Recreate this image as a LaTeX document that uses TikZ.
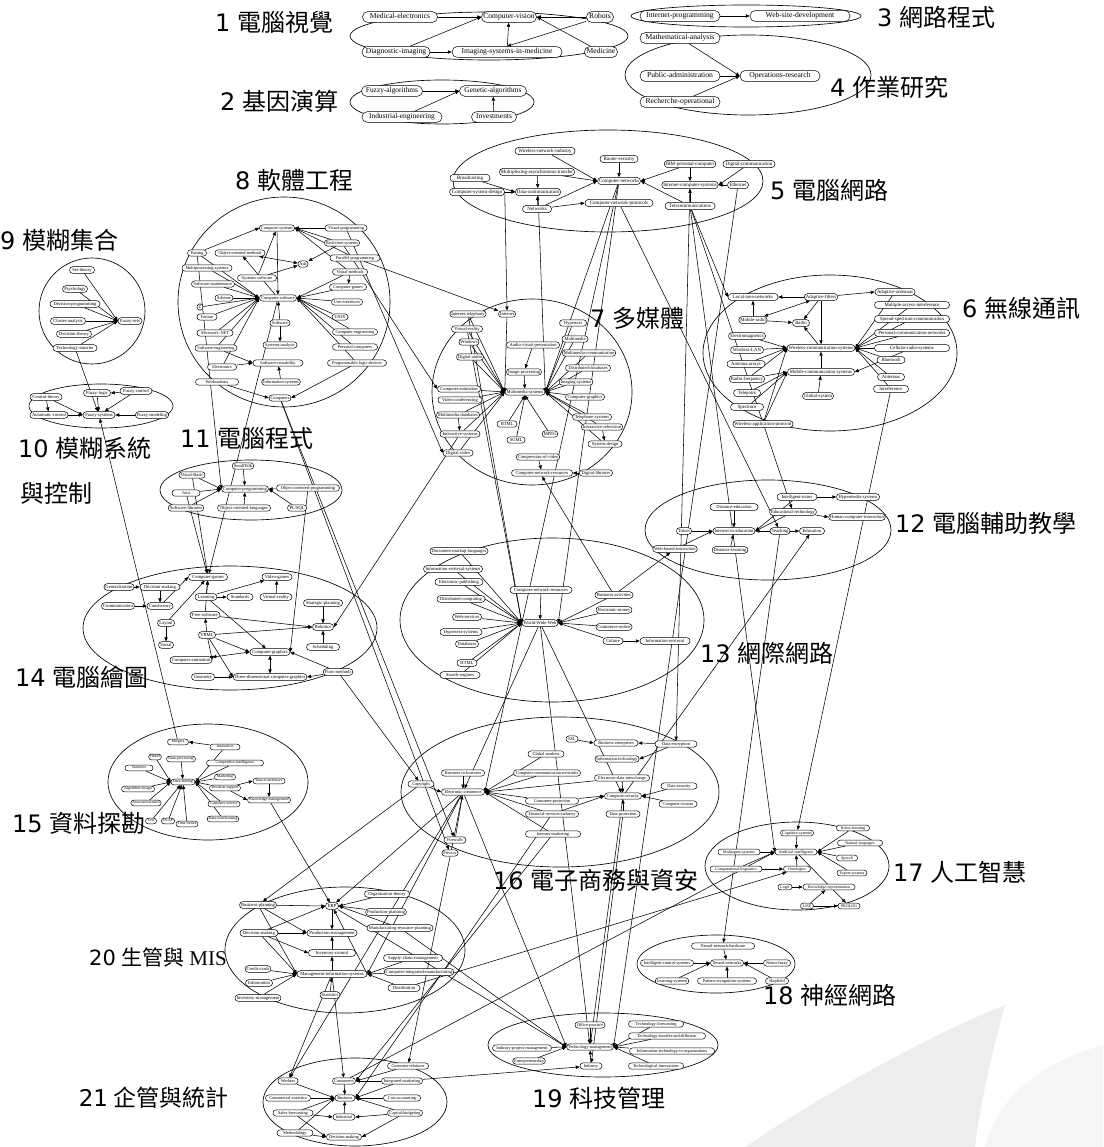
\documentclass[tikz,border=0pt]{standalone}
\usepackage{fontspec}
\setmainfont{Liberation Serif}
\newfontfamily\cjkf{Noto Sans CJK TC}
\newfontfamily\dvs{DejaVu Sans}
\usetikzlibrary{arrows.meta}
\pgfdeclarelayer{bg}
\pgfsetlayers{bg,main}
\newcommand\setc[1]{\def\nfs{\fontsize{#1}{#1}\selectfont}%
 \pgfmathsetmacro\nth{0.72*#1}\pgfmathsetmacro\ntd{0.22*#1}%
 \pgfmathsetmacro\nys{0.25*#1}\pgfmathsetmacro\nrc{0.7*#1}}
\setc{4.5}
\tikzset{
 nd/.style={draw,fill=white,rounded corners=\nrc pt,font=\nfs,inner xsep=1.5pt,inner ysep=\nys pt,text height=\nth pt,text depth=\ntd pt,line width=0.5pt},
 ar/.style={-{Triangle[length=4pt,width=3.3pt]},line width=0.55pt},
 ar2/.style={{Triangle[length=4pt,width=3.3pt]}-{Triangle[length=4pt,width=3.3pt]},line width=0.55pt},
 ell/.style={line width=0.65pt},
 lbl/.style={anchor=west,inner sep=0pt,font=\fontsize{24}{26}\selectfont},
}
\newcommand\nd[5]{\node[nd,minimum width=#4pt] (#1) at (#2,#3) {#5};}
\newcommand\ed[2]{\draw[ar] (#1) -- (#2);}
\newcommand\clab[4]{\node[lbl] at (#1,#2) {{\dvs #3}\hspace{0.28em}{\cjkf #4}};}
\begin{document}
\begin{tikzpicture}[x=1pt,y=-1pt]
\useasboundingbox (0,0) rectangle (1103,1147);
% ---------- cluster 1
\setc{7.6}
\nd{mede}{400}{17}{75}{Medical-electronics}
\nd{cv}{509}{17}{55}{Computer-vision}
\nd{rob}{600}{17}{27}{Robots}
\nd{diag}{396}{52}{68}{Diagnostic-imaging}
\nd{ism}{507}{52}{110}{Imaging-systems-in-medicine}
\nd{med}{601}{52}{33}{Medicine}
% cluster 2
\setc{7.4}
\nd{fa}{392}{91}{61}{Fuzzy-algorithms}
\nd{ga}{493}{91}{67}{Genetic-algorithms}
\nd{ie}{402}{117}{80}{Industrial-engineering}
\nd{inv}{494}{117}{45}{Investments}
% cluster 3, 4
\setc{7.6}
\nd{ip}{680}{16}{80}{Internet-programming}
\nd{wsd}{800}{16}{100}{Web-site-development}
\nd{ma}{680}{38}{80}{Mathematical-analysis}
\nd{pa}{680}{76}{80}{Public-administration}
\nd{ro}{680}{102}{80}{Recherche-operational}
\nd{or}{780}{76}{80}{Operations-research}
% cluster 5
\setc{5}
\nd{wni}{545}{151}{60}{Wireless-network-industry}
\nd{rsec}{619}{159}{38}{Router-security}
\nd{cn}{619}{181}{42}{Computer-networks}
\nd{ibm}{690}{164}{50}{IBM-personal-computer}
\nd{dcom}{749}{164}{52}{Digital-communication}
\nd{ics}{690}{185}{55}{Internet-computer-systems}
\nd{eth}{738}{185}{21}{Ethernet}
\nd{tsys}{690}{206}{50}{Telecommunications}
\nd{cnp}{619}{203}{68}{Computer-network-protocols}
\nd{mat}{537}{172}{75}{Multiplexing-asynchronous-transfer}
\nd{dc}{538}{192}{43}{Data-communication}
\nd{nw}{537}{209}{29}{Networks}
\nd{bc}{470}{178}{40}{Broadcasting}
\nd{csp}{477}{192}{55}{Computer-system-design}
% cluster 6
\setc{4.8}
\nd{lan}{753}{297}{50}{Local-area-networks}
\nd{adf}{821}{297}{32}{Adaptive-filters}
\nd{ada}{895}{292}{40}{Adaptive-antennas}
\nd{r6a}{912}{305}{75}{Multiple-access-interference}
\nd{r6b}{912}{319}{75}{Spread-spectrum-communication}
\nd{r6c}{912}{333}{75}{Personal-communication-networks}
\nd{r6d}{912}{348}{75}{Cellular-radio-systems}
\nd{blt}{891}{360}{28}{Bluetooth}
\nd{ant}{891}{377}{27}{Antennas}
\nd{intf}{891}{389}{35}{Interference}
\nd{mr}{753}{320}{27}{Mobile-radio}
\nd{radio}{801}{323}{17}{Radio}
\nd{wcs}{821}{348}{67}{Wireless-communication-systems}
\nd{l6a}{747}{336}{37}{Electromagnetics}
\nd{l6b}{747}{350}{33}{Wireless-LAN}
\nd{l6c}{746}{364}{38}{Antenna-arrays}
\nd{l6d}{747}{379}{33}{Radio-frequency}
\nd{l6e}{747}{393}{27}{Telepoint}
\nd{l6f}{747}{407}{33}{Spectrum}
\nd{wap}{763}{424}{60}{Wireless-application-protocol}
\nd{mcs}{821}{372}{67}{Mobile-communication-systems}
\nd{gsm}{818}{396}{30}{Global-system}
% cluster 7
\setc{4.5}
\nd{itech}{468}{314}{33}{Internet-telephony}
\nd{inet}{507}{314}{17}{Internet}
\nd{hyp}{573}{323}{27}{Hypertext}
\nd{vr7}{467}{329}{31}{Virtual-reality}
\nd{win}{469}{342}{18}{Windows}
\nd{daud}{470}{357}{26}{Digital-audio}
\nd{avp}{533}{345}{53}{Audio-visual-presentation}
\nd{mm}{575}{339}{26}{Multimedia}
\nd{mmc}{589}{353}{52}{Multimedia-communication}
\nd{ddb}{588}{368}{45}{Distributed-databases}
\nd{imp}{524}{372}{32}{Image-processing}
\nd{mms}{525}{392}{40}{Multimedia-systems}
\nd{imgs}{576}{382}{28}{Imaging-systems}
\nd{cgr}{585}{397}{39}{Computer-graphics}
\nd{cani}{459}{389}{43}{Computer-animation}
\nd{vconf}{460}{400}{44}{Video-conferencing}
\nd{mmd}{458}{415}{43}{Multimedia-databases}
\nd{isys}{460}{434}{40}{Interactive-systems}
\nd{dv}{458}{453}{30}{Digital-video}
\nd{html}{507}{424}{20}{HTML}
\nd{sgml}{516}{440}{18}{SGML}
\nd{mpeg}{550}{434}{14}{MPEG}
\nd{tel}{592}{417}{39}{Telephone-systems}
\nd{itv}{602}{427}{41}{Interactive-television}
\nd{sdes}{605}{444}{34}{System-design}
\nd{cvid}{538}{457}{40}{Compression-of-video}
\nd{cnr}{542}{473}{61}{Computer-network-resources}
\nd{dlib}{596}{473}{33}{Digital-libraries}
% cluster 8
\setc{4.3}
\nd{csys}{277}{228}{35}{Computer-systems}
\nd{vp}{346}{228}{42}{Visual-programming}
\nd{rts}{342}{243}{29}{Real-time-systems}
\nd{pp}{355}{258}{50}{Parallel-programming}
\nd{oom}{240}{253}{50}{Object-oriented-methods}
\nd{ada8}{303}{264}{10}{Ada}
\nd{ssw}{257}{278}{39}{Systems-software}
\nd{vm}{350}{272}{35}{Visual-methods}
\nd{cgm}{348}{287}{37}{Computer-games}
\nd{cs}{278}{298}{37}{Computer-software}
\nd{ui}{347}{302}{31}{User-interfaces}
\nd{unix}{340}{317}{16}{UNIX}
\nd{ceng}{355}{332}{45}{Computer-engineering}
\nd{pci}{355}{347}{45}{Personal-computers}
\nd{pld}{357}{363}{59}{Programmable-logic-devices}
\nd{sw}{280}{323}{20}{Software}
\nd{sa}{280}{345}{34}{Systems-analysis}
\nd{srs}{278}{363}{50}{Software-reusability}
\nd{infs}{281}{382}{38}{Information-systems}
\nd{comp}{280}{398}{20}{Computers}
\nd{pars}{197}{253}{19}{Parsing}
\nd{mpp}{207}{268}{50}{Multiprocessing-systems}
\nd{swm}{213}{284}{43}{Software-maintenance}
\nd{sch}{224}{298}{18}{Scheme}
\nd{zz}{200}{307}{6}{Z}
\nd{ftn}{207}{317}{20}{Fortran}
\nd{msn}{215}{333}{36}{Microsoft-.NET}
\nd{swe}{216}{348}{42}{Software-engineering}
\nd{elec}{222}{367}{29}{Electronics}
\nd{wks}{217}{382}{43}{Workstations}
% cluster 9
\setc{4.6}
\nd{st}{82}{270}{25}{Set-theory}
\nd{psy}{75}{289}{25}{Psychology}
\nd{dp}{75}{304}{50}{Decision-programming}
\nd{ca}{68}{321}{35}{Cluster-analysis}
\nd{dt}{74}{334}{35}{Decision-theory}
\nd{tt}{75}{348}{44}{Technology-transfer}
\nd{fs}{130}{321}{24}{Fuzzy-sets}
% cluster 10
\nd{ct}{46}{397}{32}{Control-theory}
\nd{ac}{49}{415}{38}{Automatic-control}
\nd{fl}{97}{393}{27}{Fuzzy-logic}
\nd{fc}{136}{391}{32}{Fuzzy-control}
\nd{fsys}{99}{415}{32}{Fuzzy-systems}
\nd{fm}{152}{415}{31}{Fuzzy-modeling}
% cluster 11
\setc{4.5}
\nd{smt}{243}{466}{19}{SmallTalk}
\nd{vb}{192}{475}{25}{Visual-Basic}
\nd{cp}{245}{489}{45}{Computer-programming}
\nd{oop}{308}{488}{63}{Object-oriented-programming}
\nd{java}{186}{493}{28}{Java}
\nd{swl}{186}{508}{35}{Software-libraries}
\nd{ool}{244}{508}{53}{Object-oriented-languages}
\nd{plsq}{297}{508}{19}{PL/SQL}
% cluster 12
\setc{4.6}
\nd{itut}{797}{497}{40}{Intelligent-tutors}
\nd{hyp12}{858}{497}{43}{Hypermedia-systems}
\nd{ded}{734}{507}{48}{Distance-education}
\nd{edt}{793}{512}{45}{Educational-technology}
\nd{hci}{857}{517}{55}{Human-computer-interaction}
\nd{tut}{684}{531}{15}{Tutors}
\nd{cai}{734}{531}{42}{Internet-in-education}
\nd{tch}{780}{531}{20}{Teaching}
\nd{edu}{812}{531}{25}{Education}
\nd{dl}{730}{550}{30}{Distance-learning}
\nd{wbi}{675}{549}{44}{Web-based-instruction}
% cluster 13
\nd{dml}{459}{551}{58}{Document-markup-languages}
\nd{irs}{453}{569}{59}{Information-retrieval-systems}
\nd{epub}{459}{582}{48}{Electronic-publishing}
\nd{dcmp}{461}{599}{48}{Distributed-computing}
\nd{wsrv}{467}{617}{29}{Web-services}
\nd{hts}{461}{632}{42}{Hypertext-systems}
\nd{dbs}{467}{644}{23}{Databases}
\nd{html2}{467}{663}{20}{HTML}
\nd{srch}{460}{675}{40}{Search-engines}
\nd{cnr2}{541}{590}{62}{Computer-network-resources}
\nd{www}{540}{623}{36}{World-Wide-Web}
\nd{bact}{614}{595}{38}{Business-activities}
\nd{emon}{614}{610}{33}{Electronic-money}
\nd{cmol}{614}{627}{33}{Commerce-online}
\nd{cult}{613}{641}{20}{Culture}
\nd{ir2}{665}{641}{50}{Information-retrieval}
% cluster 14
\nd{gen}{119}{587}{28}{Generalization}
\nd{dm14}{160}{587}{40}{Decision-making}
\nd{comm}{118}{606}{33}{Communication}
\nd{cons}{160}{606}{26}{Consistency}
\nd{lay}{166}{623}{17}{Layout}
\nd{soc}{166}{645}{15}{Social}
\nd{cgam}{208}{577}{39}{Computer-games}
\nd{vg}{277}{577}{30}{Video-games}
\nd{lrn}{206}{597}{22}{Learning}
\nd{std}{240}{597}{26}{Standards}
\nd{vr2}{276}{597}{32}{Virtual-reality}
\nd{sp}{323}{603}{39}{Strategic-planning}
\nd{fsw}{205}{615}{30}{Free-software}
\nd{robo}{323}{627}{21}{Robotics}
\nd{vrml}{207}{635}{17}{VRML}
\nd{sched}{323}{647}{33}{Scheduling}
\nd{cgr2}{270}{652}{40}{Computer-graphics}
\nd{cani2}{191}{660}{42}{Computer-animation}
\nd{geo}{203}{677}{23}{Geometry}
\nd{tdc}{270}{677}{70}{Three-dimensional-computer-graphics}
\nd{flow}{338}{672}{27}{Flow-methods}
% cluster 15
\setc{3.9}
\nd{mgn}{178}{742}{21}{Mergers}
\nd{innov}{225}{747}{30}{Innovation}
\nd{hmm}{155}{757}{11}{HMM}
\nd{dproc}{181}{759}{29}{Data-processing}
\nd{cint}{235}{763}{57}{Competitive-intelligence}
\nd{stat}{139}{768}{28}{Statistics}
\nd{dmin}{183}{782}{24}{Data-mining}
\nd{mkt}{225}{777}{21}{Marketing}
\nd{dsup}{225}{788}{31}{Decision-support}
\nd{dwh}{269}{781}{32}{Data-warehouses}
\nd{algd}{138}{789}{33}{Algorithm-design}
\nd{km}{269}{800}{43}{Knowledge-management}
\nd{asr}{146}{803}{29}{Association-rules}
\nd{csrv}{224}{804}{32}{Customer-service}
\nd{dwg}{223}{819}{31}{Data-warehousing}
\nd{txt}{151}{821}{11}{Text}
\nd{olap}{168}{821}{11}{OLAP}
\nd{tser}{187}{824}{21}{Time-Series}
% cluster 16
\setc{4.3}
\nd{cpy}{421}{784}{26}{Copyright}
\nd{b2b}{463}{773}{43}{Business-to-business}
\nd{ec}{463}{792}{43}{Electronic-commerce}
\nd{gm}{546}{754}{36}{Global-markets}
\nd{ccn}{547}{773}{67}{Computer-communication-networks}
\nd{cpr}{552}{801}{53}{Consumer-protection}
\nd{fsi}{552}{814}{53}{Financial-services-industry}
\nd{imk}{553}{834}{55}{Internet-marketing}
\nd{ssl}{572}{739}{12}{SSL}
\nd{be}{616}{743}{44}{Business-enterprises}
\nd{it16}{617}{759}{38}{Information-technology}
\nd{edi}{622}{778}{55}{Electronic-data-interchange}
\nd{csec}{623}{796}{37}{Computer-security}
\nd{dprot}{623}{814}{34}{Data-protection}
\nd{denc}{676}{744}{42}{Data-encryption}
\nd{dsec}{679}{786}{36}{Data-security}
\nd{cvir}{678}{804}{38}{Computer-viruses}
\nd{fw}{455}{840}{22}{Firewalls}
\nd{priv}{450}{853}{16}{Privacy}
% cluster 17
\setc{4}
\nd{cogs}{797}{833}{33}{Cognitive-systems}
\nd{ai}{796}{852}{42}{Artificial-intelligence}
\nd{mas}{739}{852}{42}{Multiagent-systems}
\nd{cling}{736}{869}{52}{Computational-linguistics}
\nd{onto}{797}{869}{27}{Ontologies}
\nd{logic}{785}{887}{14}{Logic}
\nd{kr}{829}{887}{52}{Knowledge-representation}
\nd{lisp}{807}{906}{13}{LISP}
\nd{prolog}{849}{906}{22}{PROLOG}
\nd{rl}{853}{828}{33}{Robot-learning}
\nd{nlp}{860}{843}{45}{Natural-languages}
\nd{spch}{847}{858}{21}{Speech}
\nd{exs}{852}{873}{30}{Expert-systems}
% cluster 18
\setc{4.3}
\nd{nnh}{723}{946}{63}{Neural-network-hardware}
\nd{nn}{727}{963}{33}{Neural-networks}
\nd{ictl}{667}{963}{53}{Intelligent-control-systems}
\nd{nfz}{777}{963}{27}{Neuro-fuzzy}
\nd{lsys}{672}{981}{31}{Learning-systems}
\nd{pr}{727}{981}{59}{Pattern-recognition-systems}
\nd{hop}{777}{981}{23}{Hopfield}
% cluster 19
\nd{offp}{590}{1025}{30}{Office-practice}
\nd{tm}{590}{1047}{46}{Technology-management}
\nd{ipm}{522}{1048}{59}{Industry-project-management}
\nd{entr}{529}{1061}{32}{Entrepreneurship}
\nd{ind}{591}{1066}{22}{Industry}
\nd{r19a}{656}{1024}{55}{Technology-forecasting}
\nd{r19b}{667}{1036}{77}{Technology-transfer-and-diffusion}
\nd{r19c}{672}{1051}{85}{Information-technology-in-organizations}
\nd{r19d}{656}{1066}{55}{Technological-innovations}
% cluster 20
\setc{4.6}
\nd{bp}{258}{905}{37}{Business-planning}
\nd{erp}{332}{906}{13}{ERP}
\nd{org}{387}{894}{45}{Organization-theory}
\nd{pplan}{386}{912}{38}{Production-planning}
\nd{mrp}{400}{928}{66}{Manufacturing-resource-planning}
\nd{dm20}{259}{933}{38}{Decision-making}
\nd{pmgt}{332}{933}{50}{Production-management}
\nd{invc}{332}{953}{47}{Inventory-control}
\nd{ccard}{258}{969}{25}{Credit-cards}
\nd{mis}{332}{974}{70}{Management-information-systems}
\nd{scm}{413}{958}{59}{Supply-chain-management}
\nd{cim}{419}{972}{68}{Computer-integrated-manufacturing}
\nd{dist}{404}{988}{32}{Distribution}
\nd{info}{259}{983}{27}{Information}
\nd{stat2}{330}{995}{20}{Statistics}
\nd{invm}{258}{998}{43}{Inventory-management}
% cluster 21
\setc{4.3}
\nd{crel}{408}{1066}{41}{Customer-relations}
\nd{wrk}{288}{1081}{20}{Workers}
\nd{cons2}{344}{1081}{23}{Consumers}
\nd{imkt}{402}{1081}{41}{Integrated-marketing}
\nd{cstat}{288}{1098}{45}{Commercial-statistics}
\nd{bus}{345}{1098}{20}{Business}
\nd{cacc}{402}{1098}{37}{Cost-accounting}
\nd{sfc}{293}{1113}{40}{Sales-forecasting}
\nd{indl}{344}{1117}{22}{Industrial}
\nd{capb}{405}{1113}{35}{Capital-budgeting}
\nd{meth}{295}{1133}{36}{Methodology}
\nd{dmk}{344}{1137}{35}{Decision-making}
% ---------- labels
\clab{215}{22}{1}{電腦視覺}
\clab{220}{101}{2}{基因演算}
\clab{877}{17}{3}{網路程式}
\clab{830}{87}{4}{作業研究}
\clab{770}{190}{5}{電腦網路}
\clab{962}{308}{6}{無線通訊}
\clab{590}{318}{7}{多媒體}
\clab{235}{180}{8}{軟體工程}
\clab{0}{240}{9}{模糊集合}
\clab{18}{448}{10}{模糊系統}
\node[lbl] at (20,493) {\cjkf 與控制};
\clab{180}{438}{11}{電腦程式}
\clab{895}{523}{12}{電腦輔助教學}
\clab{700}{653}{13}{網際網路}
\clab{15}{677}{14}{電腦繪圖}
\clab{12}{823}{15}{資料探勘}
\clab{493}{880}{16}{電子商務與資安}
\clab{893}{872}{17}{人工智慧}
\clab{763}{995}{18}{神經網路}
\clab{532}{1098}{19}{科技管理}
\node[lbl,anchor=east,font=\fontsize{21}{23}\selectfont] at (227,957) {{\dvs 20}\hspace{0.25em}{\cjkf 生管與} MIS};
\node[lbl,anchor=east,font=\fontsize{23}{25}\selectfont] at (229,1098) {{\dvs 21}\hspace{0.25em}{\cjkf 企管與統計}};
% ---------- background: ellipses and edges
\begin{pgfonlayer}{bg}
\fill[white] (0,0) rectangle (1103,1147);
\fill[black!7] (745,1147) .. controls (830,1090) and (930,1035) .. (1005,1005) .. controls (990,1060) and (980,1105) .. (975,1147) -- cycle;
\fill[black!4] (985,1147) .. controls (1000,1090) and (1050,1060) .. (1103,1045) -- (1103,1147) -- cycle;
\draw[ell] (489,36) ellipse [x radius=139pt, y radius=24pt];
\draw[ell] (442,102) ellipse [x radius=92pt, y radius=22pt];
\draw[ell] (746,16) ellipse [x radius=115pt, y radius=11pt];
\draw[ell] (748,75) ellipse [x radius=123pt, y radius=40pt];
\draw[ell] (608,181) ellipse [x radius=155pt, y radius=51pt];
\draw[ell] (830,353) ellipse [x radius=127pt, y radius=78pt];
\draw[ell] (532,392) ellipse [x radius=100pt, y radius=93pt];
\draw[ell] (284,302) ellipse [x radius=106pt, y radius=105pt];
\draw[ell] (92,311) ellipse [x radius=53pt, y radius=53pt];
\draw[ell] (101,406) ellipse [x radius=72pt, y radius=22pt];
\draw[ell] (251,490) ellipse [x radius=91pt, y radius=30pt];
\draw[ell] (768,530) ellipse [x radius=123pt, y radius=50pt];
\draw[ell] (552,620) ellipse [x radius=152pt, y radius=82pt];
\draw[ell] (230,628) ellipse [x radius=147pt, y radius=62pt];
\draw[ell] (208,782) ellipse [x radius=100pt, y radius=58pt];
\draw[ell] (560,792) ellipse [x radius=159pt, y radius=75pt];
\draw[ell] (797,866) ellipse [x radius=92pt, y radius=44pt];
\draw[ell] (716,964) ellipse [x radius=79pt, y radius=29pt];
\draw[ell] (603,1045) ellipse [x radius=115pt, y radius=32pt];
\draw[ell] (345,950) ellipse [x radius=120pt, y radius=63pt];
\draw[ell] (355,1102) ellipse [x radius=92pt, y radius=44pt];
% cluster 1-4 edges
\ed{mede}{cv.west}\ed{rob}{cv.east}\ed{diag}{cv.west}\ed{diag}{ism}\ed{ism}{cv}\ed{rob}{ism.north}\ed{med}{cv.east}
\ed{fa}{ga.west}\ed{ie}{ga.west}\ed{inv}{ga}
\ed{ip}{wsd}
\ed{ma}{or.west}\ed{pa}{or.west}\ed{ro}{or.west}
% cluster 5
\ed{wni}{cn.west}\ed{rsec}{cn}\ed{mat}{cn.west}\ed{nw}{cn.west}\ed{mat}{dc}\ed{nw}{dc}\ed{nw}{cnp.west}
\ed{bc}{dc.west}\ed{csp}{dc.west}\ed{ibm}{cn.east}\ed{tsys}{cn.east}\ed{ibm}{ics}\ed{tsys}{ics}\ed{dcom}{ics.east}\ed{eth}{ics.east}
% cluster 6
\ed{adf}{lan.east}\ed{adf}{ada.west}\ed{mr}{lan}\draw[ar2] (mr) -- (adf);\ed{mr}{radio}\ed{adf}{radio}\ed{adf}{wcs}\ed{wcs}{radio}
\foreach \a in {l6a,l6b,l6c,l6d,wap} {\ed{\a}{wcs.west}}
\foreach \a in {l6d,l6e,l6f,wap} {\ed{\a}{mcs.west}}
\foreach \a in {ada,r6a,r6b,r6c,r6d,blt,ant,intf} {\ed{\a}{wcs.east}}
\ed{gsm}{mcs}\ed{mcs}{wcs}\ed{r6d}{mcs.east}
% cluster 7
\foreach \a in {itech,inet,vr7,win,daud,cani,vconf,mmd,isys,dv} {\ed{\a}{mms.west}}
\foreach \a in {hyp,mm,mmc,ddb,imgs,cgr,tel,itv,sdes} {\ed{\a}{mms.east}}
\ed{imp}{mms}\ed{avp}{imp}\ed{html}{mms.south}\ed{sgml}{mms.south}\ed{mpeg}{mms.south}
\ed{itv}{sdes}\ed{cvid}{cnr}\ed{dlib}{cnr.east}\ed{mmd}{isys}
% cluster 8
\ed{pars}{csys.west}
\foreach \a in {vp,rts,pp,vm} {\ed{\a}{csys.east}}
\ed{ssw}{csys}\ed{csys}{cs}\draw[ar2] (oom) -- (ada8);\ed{cs}{oom}\ed{rts}{ada8}\ed{ssw}{ada8}
\foreach \a in {pars,mpp,swm,sch,zz,ftn,msn,swe,elec} {\ed{\a}{cs.west}}
\foreach \a in {vm,cgm,ui,unix,ceng,pci,pld} {\ed{\a}{cs.east}}
\ed{vm}{cgm}\ed{sw}{cs}\ed{sw}{sa}\ed{swe}{srs.west}\ed{elec}{srs.west}\ed{infs}{srs}\ed{wks}{comp.west}\ed{pld}{comp.east}
% cluster 9, 10
\foreach \a in {st,psy,dp,ca,dt,tt} {\ed{\a}{fs.west}}
\ed{ct}{ac}\ed{ac}{fsys.west}\ed{ct}{fsys.west}\ed{fl}{fsys}\ed{fc}{fl.east}\ed{fc}{fsys}\ed{fm}{fsys.east}
% cluster 11
\ed{smt}{cp}\ed{vb}{cp.west}\ed{java}{cp.west}\ed{swl}{cp.west}\ed{ool}{cp}\ed{oop}{cp.east}\ed{plsq}{cp.east}
% cluster 12
\ed{ded}{cai}\ed{itut}{cai.east}\ed{edt}{cai.east}\ed{itut}{hyp12}\ed{edt}{hci.west}\ed{tch}{cai.east}\ed{tch}{edu}\ed{tut}{cai.west}\ed{dl}{cai}\ed{wbi}{cai.west}
% cluster 13
\foreach \a in {dml,irs,epub,dcmp,wsrv,hts,dbs,html2,srch} {\ed{\a}{www.west}}
\ed{cnr2}{www}
\foreach \a in {bact,emon,cmol,cult} {\ed{\a}{www.east}}
\ed{cult}{ir2}
% cluster 14
\ed{gen}{dm14.west}\ed{comm}{cons.west}\ed{dm14}{cons}\ed{cons}{cgam.west}\ed{lay}{soc}\ed{lay}{cgam}\ed{lrn}{cgam}\ed{lrn}{std.west}\ed{lrn}{vg}\ed{vr2}{vg}
\ed{fsw}{cgam}\ed{fsw}{robo.west}\ed{sp}{robo}\ed{sched}{robo}\ed{vrml}{fsw}\ed{vrml}{robo.west}\ed{vrml}{cgr2.west}\ed{vrml}{cani2.east}\ed{vrml}{tdc.west}
\draw[ar2] (cani2) -- (cgr2.west);\ed{geo}{tdc.west}\draw[ar2] (cgr2) -- (tdc);\ed{flow}{tdc.east}\ed{flow}{cgr2.east}\ed{lrn}{cgr2}
% cluster 15
\ed{innov}{mgn.east}\ed{dproc}{dmin}
\foreach \a in {hmm,stat,algd,asr} {\ed{\a}{dmin.west}}
\foreach \a in {txt,olap,tser} {\ed{\a}{dmin}}
\foreach \a in {mkt,dsup,csrv,dwg,cint,innov} {\ed{\a}{dmin.east}}
\ed{dsup}{dwh.west}\ed{dwh}{km}\ed{dsup}{km.west}
% cluster 16
\ed{cpy}{ec.west}\ed{b2b}{ec}
\foreach \a in {gm,ccn,cpr,fsi,imk,edi} {\ed{\a}{ec.east}}
\ed{ssl}{be.west}\ed{denc}{be.east}\ed{denc}{it16.east}\ed{edi}{csec}\ed{dprot}{csec}\ed{dsec}{csec.east}\ed{cvir}{csec.east}
\ed{cpr}{csec.west}\ed{fsi}{csec.west}\ed{fw}{ec}
% cluster 17
\ed{cogs}{ai}\ed{mas}{ai.west}\ed{cling}{ai.west}\ed{cling}{onto.west}\ed{onto}{ai}
\foreach \a in {rl,nlp,spch,exs} {\ed{\a}{ai.east}}
\ed{logic}{kr.west}\ed{lisp}{kr}\ed{lisp}{prolog.west}\ed{ai}{prolog}
% cluster 18
\ed{nnh}{nn}\ed{ictl}{nn.west}\ed{lsys}{nn.west}\ed{pr}{nn}\ed{nfz}{nn.east}\ed{hop}{nn.east}
% cluster 19
\ed{offp}{tm}\ed{ipm}{tm.west}\ed{entr}{tm.west}\ed{ind}{tm}
\foreach \a in {r19a,r19b,r19c,r19d} {\ed{\a}{tm.east}}
% cluster 20
\ed{bp}{erp.west}\ed{dm20}{erp.west}\ed{org}{erp.east}\ed{pplan}{erp.east}\ed{mrp}{erp.east}\ed{erp}{pmgt}\ed{invc}{pmgt}\ed{mis}{invc}
\ed{dm20}{pmgt.west}\ed{dm20}{invc.west}\ed{bp}{pmgt.west}
\foreach \a in {ccard,info,invm,bp,dm20} {\ed{\a}{mis.west}}
\foreach \a in {scm,cim,dist} {\ed{\a}{mis.east}}
\ed{stat2}{mis}\ed{mis.east}{erp}
% cluster 21
\ed{crel}{cons2.east}\ed{imkt}{cons2.east}\ed{cons2}{bus}
\foreach \a in {wrk,cstat,sfc,meth} {\ed{\a}{bus.west}}
\foreach \a in {cacc,capb,imkt} {\ed{\a}{bus.east}}
\ed{indl}{bus}\ed{sfc}{indl.west}\ed{capb}{indl.east}\ed{sfc}{dmk.west}\ed{meth}{dmk.west}\ed{capb}{dmk.east}
% ---------- inter-cluster edges
\ed{csp.east}{inet.north}
\ed{cn}{mms.east}\ed{dc}{mms.east}\ed{cn}{www.east}\ed{cn}{ec.east}
\ed{cnp}{tch}\ed{tsys}{lan.west}\ed{tsys}{ai.west}\ed{tsys}{edt}\ed{eth}{tm.east}\ed{ics}{denc}
\ed{pp}{inet}\ed{rts}{cani.west}\ed{vp}{dv.west}
\ed{comp}{priv}\ed{comp}{fw}\ed{pars}{cp.west}\ed{cs}{cgam}
\ed{tt}{fsys}\ed{mgn}{fsys}
\ed{vb}{cgam}\ed{java}{cgam}\ed{oop}{cgr2.east}\ed{isys}{robo.east}
\ed{bact}{wbi}\ed{bact}{cnr.south}\ed{itech}{www.west}\ed{vr7}{www.west}
\ed{intf}{cogs}\ed{csec}{edu}\ed{tch}{nnh}\ed{dist}{onto}\ed{cons2}{ai.west}
\ed{ec}{erp}\ed{ec}{mis.east}\ed{cpy}{bp}\ed{fsi}{bus.east}\ed{imk}{cons2.east}\ed{ec}{crel}
\ed{www}{tm}\ed{csec}{tm}\ed{dprot}{ind}\ed{erp}{tm.west}\ed{mrp}{tm.west}\ed{ec}{tm.west}
\ed{imkt}{ind}\ed{mis}{cons2}\ed{mis}{wrk}\ed{ec}{wrk}\ed{km}{erp}\ed{flow}{cpy}\ed{www}{ec}\ed{www}{csec}
\end{pgfonlayer}
\end{tikzpicture}
\end{document}
